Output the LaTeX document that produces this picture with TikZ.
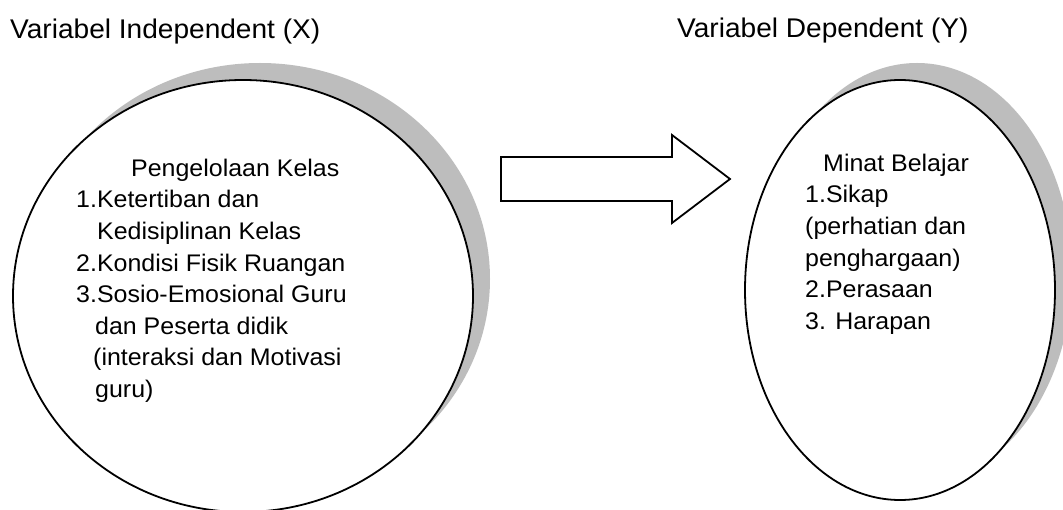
\documentclass[tikz,border=0pt]{standalone}
\usepackage{fontspec}
\setmainfont{Liberation Sans}[FakeStretch=1.04]
\usetikzlibrary{shapes.geometric,shadows}
\definecolor{shadowgray}{gray}{0.74}
\tikzset{
  bubble/.style={ellipse, draw=black, line width=1.8pt, fill=white, inner sep=0pt,
    drop shadow={shadow xshift=17pt, shadow yshift=17pt, fill=shadowgray, opacity=1, draw=none}},
  titletext/.style={anchor=base west, inner sep=0pt, font=\fontsize{27}{33}\selectfont},
  bodytext/.style={anchor=north west, inner sep=0pt, align=left, font=\fontsize{24}{31.6}\selectfont},
  blockarrow/.style={draw=black, line width=1.8pt, fill=white, line join=miter}
}
\begin{document}
\begin{tikzpicture}[x=1pt,y=-1pt]
\useasboundingbox (0,0) rectangle (1063,510);
\fill[white] (0,0) rectangle (1063,510);

\node[titletext] (tx) at (10,39) {Variabel Independent (X)};
\node[titletext] (ty) at (677,38) {Variabel Dependent (Y)};

\node[bubble, minimum width=460pt, minimum height=432pt] (L) at (243,296) {};
\node[bubble, minimum width=310pt, minimum height=420pt] (R) at (900,290) {};

\node[bodytext] (Ltext) at (76,158.8) {\hspace*{55pt}Pengelolaan Kelas\\
1.Ketertiban dan\\
\hspace*{21pt}Kedisiplinan Kelas\\
2.Kondisi Fisik Ruangan\\
3.Sosio-Emosional Guru\\
\hspace*{19pt}dan Peserta didik\\
\hspace*{17pt}(interaksi dan Motivasi\\
\hspace*{19pt}guru)};

\node[bodytext] (Rtext) at (805,153.8) {\hspace*{18pt}Minat Belajar\\
1.Sikap\\
(perhatian dan\\
penghargaan)\\
2.Perasaan\\
3. Harapan};

\coordinate (a1) at (501,157);
\coordinate (a2) at (672,157);
\coordinate (a3) at (672,135);
\coordinate (tip) at (730,179);
\coordinate (a5) at (672,223);
\coordinate (a6) at (672,201);
\coordinate (a7) at (501,201);
\draw[blockarrow] (a1) -- (a2) -- (a3) -- (tip) -- (a5) -- (a6) -- (a7) -- cycle;
\end{tikzpicture}
\end{document}
